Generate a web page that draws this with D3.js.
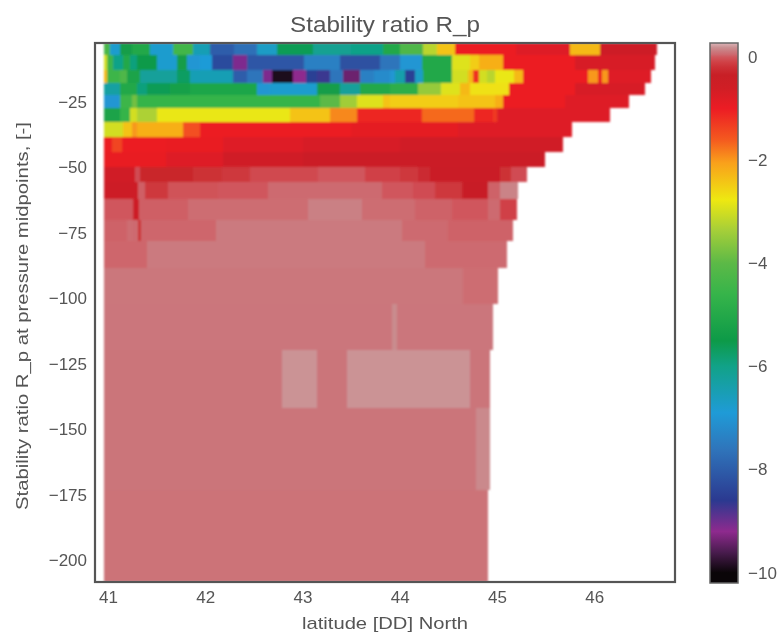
<!DOCTYPE html>
<html lang="en">
<head>
    <meta charset="UTF-8">
    <title>Stability ratio R_p</title>
    <script src="https://d3js.org/d3.v7.min.js"></script>
    <style>
        body { margin: 0; background: white; }
        svg { display: block; }
        text { font-family: "Liberation Sans", Arial, sans-serif; fill: #555; filter: blur(0.55px); }
        .tick text { font-size: 17px; }
        .axis path, .axis line { display: none; }
    </style>
</head>
<body>
    <svg width="780" height="633"></svg>

    <script>
        // pressure bin edges, top to bottom
        const depthEdges = [-2.5, -7, -12.8, -17.7, -22.3, -27.3, -32.6, -38.4, -44, -49.8, -55.5, -62, -70, -78, -88.4, -102, -119.7, -141.8, -173, -208.2];
        const latStart = 40.96;

        // each row: [latitude where the run ends, R_p]
        const row00 = [[41.02,-4.3],[41.12,-6.8],[41.25,-5.4],[41.43,-5.0],[41.67,-6.8],[41.87,-4.4],[42.05,-6.5],[42.30,-8.0],[42.53,-7.7],[42.74,-6.7],[43.11,-5.6],[43.5,-6.1],[43.83,-6.0],[44.0,-5.0],[44.24,-4.2],[44.38,-3.2],[44.57,-2.4],[45.2,-1.0],[45.75,-0.8],[46.06,-2.3],[46.64,-0.5]];
        const row01 = [[40.99,-3.0],[41.05,-4.5],[41.15,-6.0],[41.23,-5.0],[41.30,-5.9],[41.50,-5.5],[41.71,-6.8],[41.81,-5.4],[41.95,-7.0],[42.07,-6.9],[42.29,-8.3],[42.43,-9.1],[43.01,-8.1],[43.39,-7.4],[43.80,-8.2],[44.0,-7.6],[44.23,-7.0],[44.54,-5.0],[44.72,-2.9],[44.81,-2.5],[45.06,-2.2],[45.8,-1.0],[46.62,-0.7]];
        const row02 = [[40.99,-2.3],[41.12,-4.5],[41.20,-4.2],[41.33,-5.2],[41.71,-6.2],[41.84,-5.7],[42.29,-6.5],[42.43,-8.0],[42.59,-7.6],[42.69,-9.1],[42.90,-9.9],[43.04,-9.2],[43.15,-8.5],[43.28,-8.7],[43.42,-7.6],[43.59,-9.4],[43.73,-7.4],[43.90,-7.2],[43.95,-7.0],[44.05,-6.4],[44.16,-8.5],[44.24,-6.7],[44.54,-5.0],[44.70,-3.0],[44.75,-2.3],[44.81,-1.2],[44.90,-3.0],[44.98,-3.2],[45.17,-2.8],[45.27,-2.3],[45.94,-1.0],[46.04,-2.0],[46.08,-1.0],[46.14,-2.0],[46.58,-0.8]];
        const row03 = [[41.12,-6.3],[41.30,-5.0],[41.40,-5.9],[41.64,-5.6],[41.84,-5.3],[42.53,-5.1],[42.67,-7.0],[43.15,-6.8],[43.39,-5.4],[43.59,-6.2],[43.90,-5.0],[44.19,-4.8],[44.42,-3.5],[44.62,-2.9],[44.72,-2.3],[45.12,-2.7],[45.8,-1.0],[46.52,-0.7]];
        const row04 = [[41.12,-7.0],[41.25,-4.5],[41.30,-3.8],[43.18,-4.6],[43.39,-4.0],[43.56,-3.4],[43.83,-2.9],[43.90,-2.4],[44.6,-2.5],[44.98,-2.4],[45.06,-2.2],[45.7,-1.0],[46.36,-0.8]];
        const row05 = [[41.12,-5.2],[41.23,-4.6],[41.30,-3.0],[41.50,-3.3],[42.87,-2.8],[43.28,-2.4],[43.56,-1.9],[44.23,-1.1],[44.76,-1.7],[44.96,-1.1],[45.00,-1.3],[46.16,-0.8]];
        const row06 = [[41.15,-3.0],[41.25,-2.4],[41.30,-2.0],[41.77,-2.2],[41.95,-1.5],[43.5,-1.0],[44.6,-0.9],[45.77,-0.8]];
        const row07 = [[41.04,-1.0],[41.14,-1.4],[41.6,-1.0],[42.18,-0.95],[43.0,-0.8],[44.0,-0.7],[45.68,-0.6]];
        const row08 = [[41.6,-0.95],[42.18,-0.8],[43.0,-0.6],[45.49,-0.45]];
        const row09 = [[41.28,-0.6],[41.33,-0.05],[41.87,-0.3],[42.17,-0.2],[42.46,-0.15],[43.16,-0.06],[43.64,0.0],[44.00,-0.1],[44.19,-0.15],[44.31,-0.25],[45.03,-0.4],[45.14,-0.2],[45.31,-0.05]];
        const row10 = [[41.31,-0.5],[41.38,0.02],[41.62,-0.15],[42.13,-0.02],[42.65,0.0],[43.82,0.05],[44.14,0.0],[44.36,-0.05],[44.64,-0.15],[44.91,-0.35],[45.03,0.03],[45.22,0.14]];
        const row11 = [[41.26,0.0],[41.32,-0.5],[41.82,0.02],[43.06,0.06],[43.61,0.13],[44.16,0.06],[44.54,0.03],[44.91,0.0],[45.03,0.05],[45.21,-0.1]];
        const row12 = [[41.20,0.03],[41.25,0.06],[41.31,0.05],[41.34,-0.2],[42.11,0.04],[44.02,0.11],[44.50,0.05],[45.16,0.03]];
        const row13 = [[41.40,0.04],[44.26,0.11],[45.10,0.05]];
        const row14 = [[44.65,0.1],[45.01,0.06]];
        const row15 = [[43.92,0.095],[43.97,0.17],[44.96,0.095]];
        const row16 = [[42.79,0.09],[43.15,0.19],[43.46,0.09],[44.72,0.19],[44.93,0.09]];
        const row17 = [[44.78,0.09],[44.93,0.16]];
        const row18 = [[44.91,0.085]];
        const rows = [row00, row01, row02, row03, row04, row05, row06, row07, row08, row09, row10, row11, row12, row13, row14, row15, row16, row17, row18];

        const latTicks = [41, 42, 43, 44, 45, 46];
        const depthTicks = [-25, -50, -75, -100, -125, -150, -175, -200];
        const barTicks = [0, -2, -4, -6, -8, -10];

        // colormap
        const cmapValues = [-10.2, -10, -9.6, -9.2, -8.6, -7.6, -6.9, -6, -5.5, -4.6, -4, -3.35, -2.77, -2.05, -1.6, -1, -0.6, -0.35, -0.2, -0.1, 0, 0.05, 0.1, 0.18, 0.27];
        const cmapColors = ["#0a0508", "#0a0508", "#4a1c4f", "#8e2a8e", "#2b3990", "#2f75bb", "#1f9bd7", "#11a288", "#0d9a48", "#36b44a", "#5cb947", "#a7cf38", "#eee811", "#f9a01b", "#f4591f", "#ec1c24", "#d01e25", "#c81f26", "#cc3036", "#d04146", "#d0575d", "#cd6a70", "#cb777c", "#c98f91", "#dcb4b8"];

        const svg = d3.select("svg");
        const plot = {left: 95, right: 675, top: 43, bottom: 582};
        const bar = {left: 710, right: 738, top: 43, bottom: 583};

        const x = d3.scaleLinear().domain([40.866, 46.83]).range([plot.left, plot.right]);
        const y = d3.scaleLinear().domain([-2.5, -208.2]).range([plot.top, plot.bottom]);
        const color = d3.scaleLinear().domain(cmapValues).range(cmapColors).clamp(true);

        const defs = svg.append("defs");
        defs.append("filter").attr("id", "soft")
            .attr("x", "-2%").attr("y", "-2%").attr("width", "104%").attr("height", "104%")
            .append("feGaussianBlur").attr("stdDeviation", 1.2);
        defs.append("clipPath").attr("id", "plotclip")
            .append("rect")
            .attr("x", plot.left).attr("y", plot.top)
            .attr("width", plot.right - plot.left)
            .attr("height", plot.bottom - plot.top);

        const cells = [];
        rows.forEach((row, r) => {
            row.forEach((d, i) => {
                cells.push({
                    x0: i ? row[i - 1][0] : latStart,
                    x1: d[0],
                    y0: depthEdges[r],
                    y1: depthEdges[r + 1],
                    v: d[1]
                });
            });
        });

        svg.append("g")
            .attr("clip-path", "url(#plotclip)")
            .append("g")
            .attr("filter", "url(#soft)")
            .selectAll("rect")
            .data(cells)
            .enter().append("rect")
            .attr("x", d => x(d.x0))
            .attr("y", d => y(d.y0))
            .attr("width", d => x(d.x1) - x(d.x0))
            .attr("height", d => y(d.y1) - y(d.y0))
            .attr("fill", d => color(d.v))
            .attr("shape-rendering", "crispEdges");

        // plot frame
        svg.append("rect")
            .attr("x", plot.left).attr("y", plot.top)
            .attr("width", plot.right - plot.left)
            .attr("height", plot.bottom - plot.top)
            .attr("fill", "none")
            .attr("stroke", "#555")
            .attr("stroke-width", 2.2);

        svg.append("g")
            .attr("class", "axis")
            .attr("transform", `translate(0,${plot.bottom})`)
            .call(d3.axisBottom(x).tickValues(latTicks).tickSize(0).tickPadding(9).tickFormat(d3.format("d")));

        svg.append("g")
            .attr("class", "axis")
            .attr("transform", `translate(${plot.left},0)`)
            .call(d3.axisLeft(y).tickValues(depthTicks).tickSize(0).tickPadding(8));

        // colorbar
        const barScale = d3.scaleLinear().domain([-10.2, 0.27]).range([bar.bottom, bar.top]);
        const grad = defs.append("linearGradient").attr("id", "cbar")
            .attr("x1", 0).attr("y1", 1).attr("x2", 0).attr("y2", 0);
        grad.selectAll("stop")
            .data(cmapValues)
            .enter().append("stop")
            .attr("offset", d => (d + 10.2) / 10.47)
            .attr("stop-color", d => color(d));

        svg.append("rect")
            .attr("x", bar.left).attr("y", bar.top)
            .attr("width", bar.right - bar.left)
            .attr("height", bar.bottom - bar.top)
            .attr("fill", "url(#cbar)")
            .attr("stroke", "#666")
            .attr("stroke-width", 1.5);

        svg.append("g")
            .attr("class", "axis")
            .attr("transform", `translate(${bar.right},0)`)
            .call(d3.axisRight(barScale).tickValues(barTicks).tickSize(0).tickPadding(10));

        // titles, stretched a little to the widths in the picture
        svg.append("text")
            .attr("x", 385).attr("y", 32)
            .attr("text-anchor", "middle")
            .attr("textLength", 190)
            .attr("lengthAdjust", "spacingAndGlyphs")
            .style("font-size", "22px")
            .text("Stability ratio R_p");

        svg.append("text")
            .attr("x", 385).attr("y", 629)
            .attr("text-anchor", "middle")
            .attr("textLength", 166)
            .attr("lengthAdjust", "spacingAndGlyphs")
            .style("font-size", "17px")
            .text("latitude [DD] North");

        svg.append("text")
            .attr("transform", "translate(28,316) rotate(-90)")
            .attr("text-anchor", "middle")
            .attr("textLength", 388)
            .attr("lengthAdjust", "spacingAndGlyphs")
            .style("font-size", "17px")
            .text("Stability ratio R_p at pressure midpoints, [-]");
    </script>
</body>
</html>
